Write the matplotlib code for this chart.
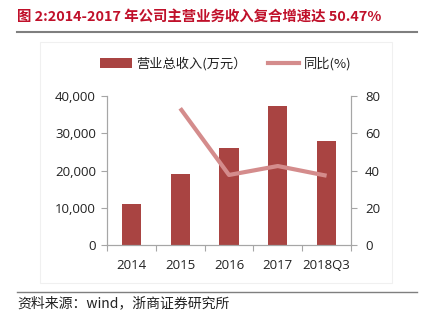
import matplotlib
matplotlib.use("Agg")
import matplotlib.pyplot as plt
import numpy as np
from matplotlib.lines import Line2D
from matplotlib.patches import Rectangle, Patch

plt.rcParams['font.family'] = ['Noto Sans CJK SC', 'DejaVu Sans']

categories = ["2014", "2015", "2016", "2017", "2018Q3"]
revenue = [10900, 19000, 26100, 37300, 28000]
yoy = [np.nan, 73.4, 37.6, 42.4, 37.2]

BAR_COLOR = "#A94442"
LINE_COLOR = "#D48C8C"
AXIS_COLOR = "#A6A6A6"
TITLE_COLOR = "#C0102A"

W, H = 422, 322
fig = plt.figure(figsize=(W / 100, H / 100), dpi=100)

# faint chart frame
fig.add_artist(Rectangle((40 / W, 1 - 283 / H), 352 / W, 241 / H,
                         transform=fig.transFigure, fill=False,
                         edgecolor="#F0F0F0", linewidth=0.8))

ax = fig.add_axes([107 / W, 1 - 245 / H, 244 / W, 149 / H])
x = np.arange(len(categories))
ax.bar(x, revenue, width=0.39, color=BAR_COLOR, zorder=2)
ax.set_xlim(-0.5, len(categories) - 0.5)
ax.set_ylim(0, 40000)
ax.set_yticks([0, 10000, 20000, 30000, 40000])
ax.set_yticklabels([f"{v:,}" for v in [0, 10000, 20000, 30000, 40000]])
ax.set_xticks(x)
ax.set_xticklabels(categories)
ax.set_xticks(np.arange(-0.5, len(categories)), minor=True)
ax.tick_params(axis="x", which="major", length=0, pad=10)
ax.tick_params(axis="x", which="minor", length=4, color=AXIS_COLOR, width=0.8)
ax.tick_params(axis="y", length=4, color=AXIS_COLOR, width=0.8, pad=4)
ax.tick_params(labelsize=9.5, labelcolor="#222222")
for lbl in ax.get_xticklabels() + ax.get_yticklabels():
    lbl.set_family(["Open Sans", "DejaVu Sans"])
ax.spines["top"].set_visible(False)
for s in ["left", "right", "bottom"]:
    ax.spines[s].set_color(AXIS_COLOR)
    ax.spines[s].set_linewidth(0.8)

ax2 = ax.twinx()
ax2.plot(x, yoy, color=LINE_COLOR, linewidth=3, solid_capstyle="butt", zorder=3)
ax2.set_ylim(0, 80)
ax2.set_yticks([0, 20, 40, 60, 80])
ax2.tick_params(axis="y", length=4, color=AXIS_COLOR, width=0.8, pad=6,
                labelsize=9.5, labelcolor="#222222")
for lbl in ax2.get_yticklabels():
    lbl.set_family(["Open Sans", "DejaVu Sans"])
ax2.spines["top"].set_visible(False)
for s in ["left", "right", "bottom"]:
    ax2.spines[s].set_color(AXIS_COLOR)
    ax2.spines[s].set_linewidth(0.8)

handles = [Patch(facecolor=BAR_COLOR, edgecolor="none"),
           Line2D([0], [0], color=LINE_COLOR, linewidth=3)]
fig.legend(handles, ["营业总收入(万元）", "同比(%)"], ncol=2,
           loc="center left", bbox_to_anchor=(88 / W, 1 - 64 / H),
           frameon=False, fontsize=9.5, handlelength=2.4, handleheight=0.8,
           handletextpad=0.35, columnspacing=1.6, labelcolor="#222222")

fig.text(17 / W, 1 - 17 / H, "图 2:2014-2017 年公司主营业务收入复合增速达 50.47%",
         color=TITLE_COLOR, fontsize=10.4, fontweight="bold", va="center", ha="left")
fig.add_artist(Line2D([17 / W, 417 / W], [1 - 32 / H, 1 - 32 / H],
                      transform=fig.transFigure, color="#7F7F7F", linewidth=1.5))
fig.add_artist(Line2D([17 / W, 417 / W], [1 - 292 / H, 1 - 292 / H],
                      transform=fig.transFigure, color="#7F7F7F", linewidth=1.0))
fig.text(17 / W, 1 - 303 / H, "资料来源：wind，浙商证券研究所",
         color="#222222", fontsize=10, va="center", ha="left")

fig.savefig("out.png", dpi=100)
